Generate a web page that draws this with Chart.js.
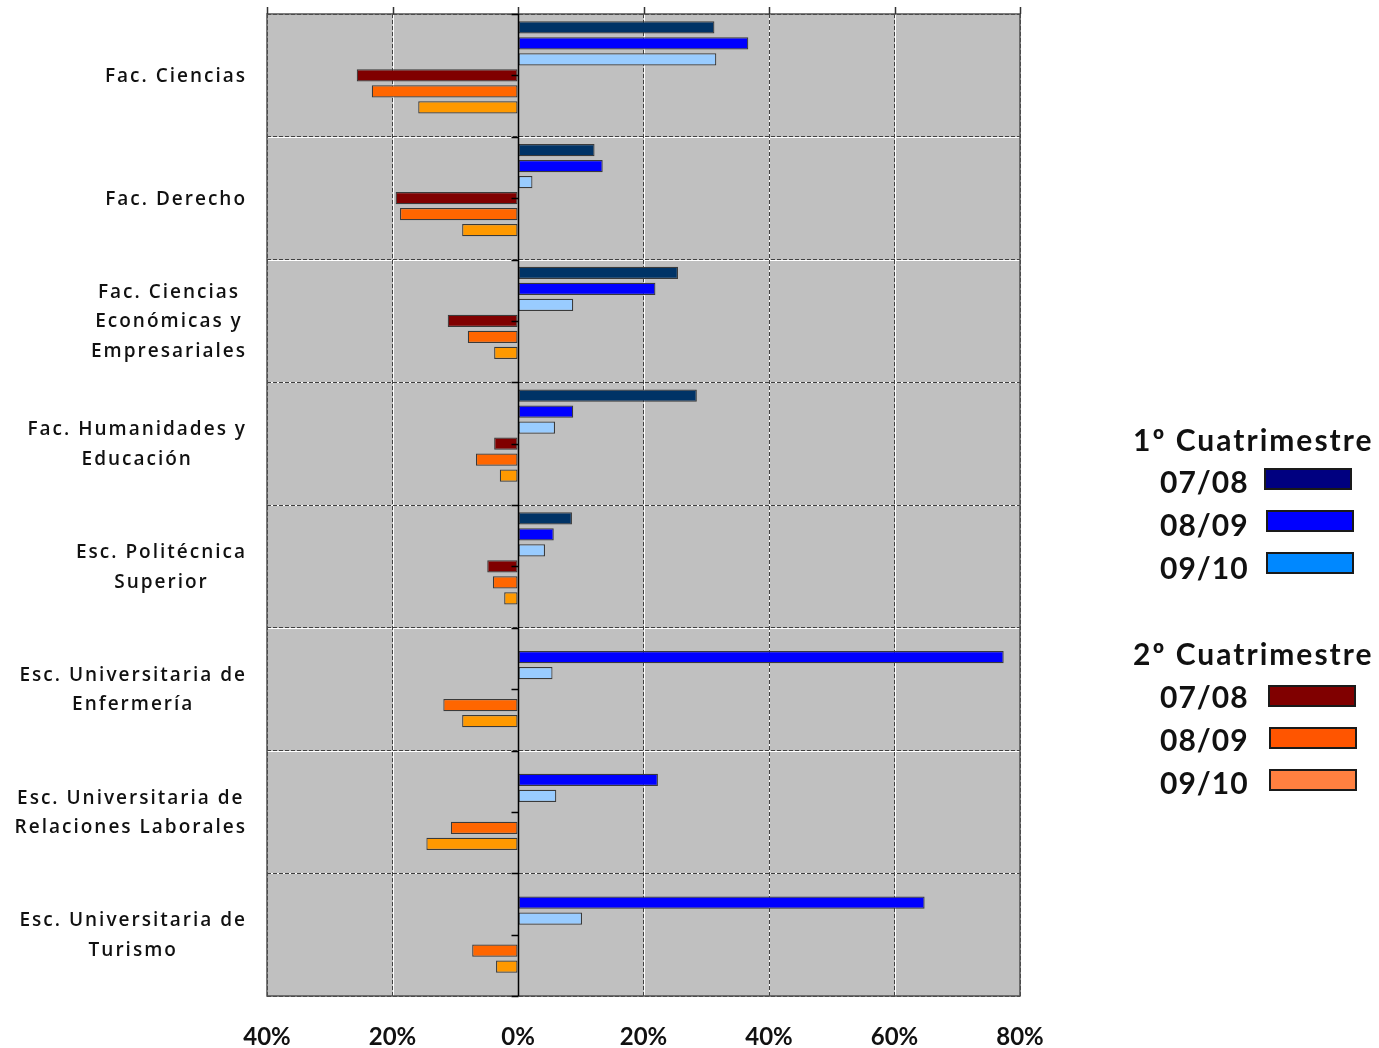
<!DOCTYPE html>
<html>
<head>
<meta charset="utf-8">
<script src="https://cdn.jsdelivr.net/npm/chart.js@4.4.1/dist/chart.umd.min.js"></script>
<style>
  html, body { margin:0; padding:0; background:#fff; }
  #wrap { position:relative; width:1379px; height:1048px; overflow:hidden; }
  #chart { position:absolute; left:0; top:0; }
  .lg { position:absolute; font-family:Lato, sans-serif; font-weight:700; color:#111; white-space:nowrap; font-size:30px; line-height:36px; height:36px; letter-spacing:1px; }
  .lg.t { letter-spacing:2px; }
  .sw { position:absolute; width:84px; height:18px; border:2px solid #1a1a1a; }
</style>
</head>
<body>
<div id="wrap">
  <canvas id="chart" width="1379" height="1048"></canvas>
  <div id="legend"></div>
</div>
<script>
// categorias (una linea por elemento)
const categories = [
  ['Fac. Ciencias'],
  ['Fac. Derecho'],
  ['Fac. Ciencias', 'Económicas y', 'Empresariales'],
  ['Fac. Humanidades y', 'Educación'],
  ['Esc. Politécnica', 'Superior'],
  ['Esc. Universitaria de', 'Enfermería'],
  ['Esc. Universitaria de', 'Relaciones Laborales'],
  ['Esc. Universitaria de', 'Turismo']
];
const cursos = ['07/08', '08/09', '09/10'];

// 1er cuatrimestre (positivo)
const c1_0708 = [31.3, 12.2, 25.5, 28.5, 8.6, null, null, null];
const c1_0809 = [36.7, 13.5, 21.9, 8.8, 5.7, 77.4, 22.3, 64.8];
const c1_0910 = [31.6, 2.3, 8.8, 5.9, 4.3, 5.5, 6.1, 10.2];
// 2o cuatrimestre (negativo)
const c2_0708 = [-25.7, -19.5, -11.2, -3.8, -4.9, null, null, null];
const c2_0809 = [-23.3, -18.8, -8.0, -6.7, -4.0, -11.9, -10.7, -7.3];
const c2_0910 = [-15.9, -8.9, -3.8, -2.9, -2.2, -8.9, -14.6, -3.5];

const xTicks = [-40, -20, 0, 20, 40, 60, 80];

const barColors = ['#003366', '#0000FF', '#99CCFF', '#800000', '#FF6600', '#FF9900'];
const legendColors1 = ['#000080', '#0000FF', '#0088FF'];
const legendColors2 = ['#800000', '#FF5500', '#FF8040'];

const seriesData = [c1_0708, c1_0809, c1_0910, c2_0708, c2_0809, c2_0910];
const seriesLabels = cursos.map(c => '1º ' + c).concat(cursos.map(c => '2º ' + c));

const datasets = seriesData.map((d, i) => ({
  label: seriesLabels[i],
  data: d,
  backgroundColor: barColors[i],
  borderColor: '#3a3a3a',
  borderWidth: 1.2,
  borderSkipped: false
}));
// hueco vacio al final de cada grupo (como en el original)
datasets.push({ label: '', data: categories.map(() => null) });

const labelFont = "600 19px 'Open Sans'";

const deco = {
  id: 'deco',
  beforeDraw(chart) {
    const { ctx, chartArea: a, scales: { x, y } } = chart;
    ctx.save();
    ctx.fillStyle = '#C0C0C0';
    ctx.fillRect(a.left, a.top, a.right - a.left, a.bottom - a.top);
    ctx.strokeStyle = '#ffffff';
    ctx.lineWidth = 1;
    ctx.beginPath();
    xTicks.forEach(v => {
      const px = Math.round(x.getPixelForValue(v)) + 0.5;
      ctx.moveTo(px, a.top); ctx.lineTo(px, a.bottom);
    });
    for (let i = 0; i <= categories.length; i++) {
      const py = Math.round(y.getPixelForValue(i - 0.5)) + 0.5;
      ctx.moveTo(a.left, py); ctx.lineTo(a.right, py);
    }
    ctx.stroke();
    ctx.restore();
  },
  afterDatasetsDraw(chart) {
    const { ctx, chartArea: a, scales: { x, y } } = chart;
    const x0 = Math.round(x.getPixelForValue(0)) + 0.5;
    ctx.save();
    // marco
    ctx.strokeStyle = '#505050';
    ctx.lineWidth = 1.5;
    ctx.strokeRect(a.left, a.top, a.right - a.left, a.bottom - a.top);
    // marcas arriba
    ctx.strokeStyle = '#333';
    ctx.lineWidth = 1.5;
    ctx.beginPath();
    xTicks.forEach(v => {
      const px = Math.round(x.getPixelForValue(v)) + 0.5;
      ctx.moveTo(px, a.top - 7); ctx.lineTo(px, a.top);
    });
    ctx.stroke();
    // eje en 0
    ctx.strokeStyle = '#000';
    ctx.lineWidth = 1.5;
    ctx.beginPath();
    ctx.moveTo(x0, a.top); ctx.lineTo(x0, a.bottom);
    for (let i = 0; i <= categories.length; i++) {
      const py = Math.round(y.getPixelForValue(i - 0.5)) + 0.5;
      ctx.moveTo(x0 - 7, py); ctx.lineTo(x0, py);
      if (i < categories.length) {
        const pc = Math.round(y.getPixelForValue(i)) + 0.5;
        ctx.moveTo(x0 - 7, pc); ctx.lineTo(x0, pc);
      }
    }
    ctx.stroke();
    ctx.restore();
  },
  afterDraw(chart) {
    const { ctx, scales: { y } } = chart;
    ctx.save();
    ctx.font = labelFont;
    ctx.letterSpacing = '2px';
    ctx.fillStyle = '#111';
    ctx.textAlign = 'center';
    ctx.textBaseline = 'middle';
    const right = 247, lh = 29.5;
    categories.forEach((lines, i) => {
      const w = Math.max(...lines.map(l => ctx.measureText(l).width));
      const cx = right - w / 2;
      const cy = y.getPixelForValue(i) + 1;
      lines.forEach((l, k) => {
        ctx.fillText(l, cx, cy + (k - (lines.length - 1) / 2) * lh);
      });
    });
    ctx.restore();
  }
};

new Chart(document.getElementById('chart'), {
  type: 'bar',
  data: { labels: categories, datasets },
  options: {
    indexAxis: 'y',
    responsive: false,
    animation: false,
    events: [],
    categoryPercentage: 0.912,
    barPercentage: 0.76,
    layout: { padding: { top: 14, right: 359, left: 0, bottom: 0 } },
    plugins: { legend: { display: false }, tooltip: { enabled: false } },
    scales: {
      x: {
        min: -40, max: 80,
        afterBuildTicks(s) { s.ticks = xTicks.map(v => ({ value: v })); },
        ticks: {
          callback: v => Math.abs(v) + '%',
          font: { family: 'Lato', weight: 'bold', size: 24 },
          color: '#111',
          padding: 27,
          maxRotation: 0
        },
        grid: { color: '#404040', drawTicks: false },
        border: { display: false, dash: [4, 2] },
        afterFit(s) { s.height = 52; }
      },
      y: {
        type: 'category',
        offset: true,
        grid: { offset: true, color: '#404040', drawTicks: false },
        border: { display: false, dash: [4, 2] },
        ticks: { display: false },
        afterFit(s) { s.width = 267; }
      }
    }
  },
  plugins: [deco]
});

// leyenda
const legend = document.getElementById('legend');
function addText(txt, left, cy, cls) {
  const d = document.createElement('div');
  d.className = 'lg' + (cls ? ' ' + cls : ''); d.textContent = txt;
  d.style.left = left + 'px'; d.style.top = (cy - 18) + 'px';
  legend.appendChild(d);
}
function addSwatch(color, left, top) {
  const d = document.createElement('div');
  d.className = 'sw'; d.style.background = color;
  d.style.left = left + 'px'; d.style.top = top + 'px';
  legend.appendChild(d);
}
addText('1º Cuatrimestre', 1133, 439, 't');
cursos.forEach((c, i) => {
  addText(c, 1160, 481 + i * 43);
  addSwatch(legendColors1[i], i === 0 ? 1264 : 1266, 468 + i * 42);
});
addText('2º Cuatrimestre', 1133, 653, 't');
cursos.forEach((c, i) => {
  addText(c, 1160, 696 + i * 43);
  addSwatch(legendColors2[i], i === 0 ? 1268 : 1269, 685 + i * 42);
});
</script>
</body>
</html>
